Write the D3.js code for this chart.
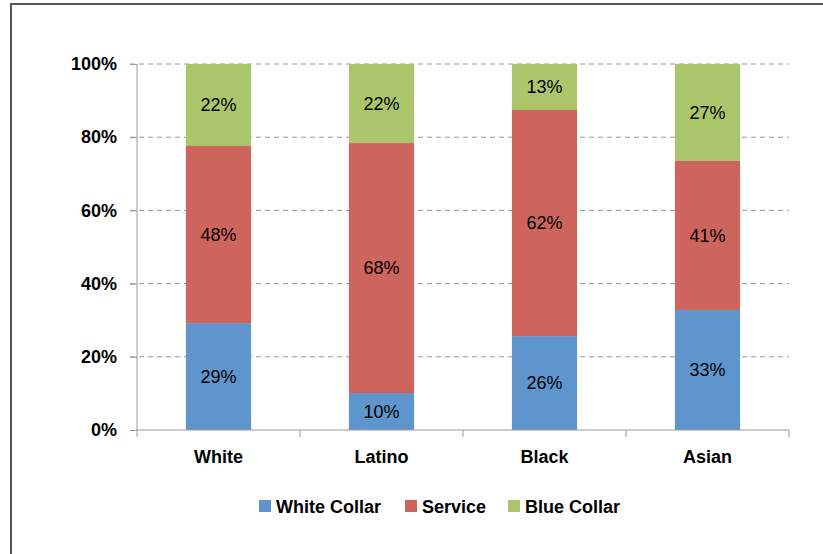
<!DOCTYPE html>
<html lang="en">
<head>
  <meta charset="UTF-8">
  <title>Occupation by group</title>
  <script src="https://d3js.org/d3.v7.min.js"></script>
  <style>
    body { margin: 0; background: #fff; font-family: "Liberation Sans", Arial, sans-serif; }
    svg { display: block; }
  </style>
</head>
<body>
  <svg width="823" height="554"></svg>

  <script>
    // values (percent of each group)
    const groups = ["White", "Latino", "Black", "Asian"];
    const series = ["White Collar", "Service", "Blue Collar"];
    const whiteCollar = [29.2, 10.1, 25.7, 32.8];
    const service = [48.4, 68.3, 61.9, 40.7];
    const blueCollar = [22.4, 21.6, 12.6, 26.5];
    const yTicks = [0, 0.2, 0.4, 0.6, 0.8, 1];
    const colors = ["#5e95cc", "#cd645e", "#abc56b"];

    const svg = d3.select("svg");
    const margin = {top: 64, left: 137, right: 34, bottom: 124};
    const width = +svg.attr("width") - margin.left - margin.right;
    const height = +svg.attr("height") - margin.top - margin.bottom;
    const fontSize = "18px";

    // outer frame
    svg.append("rect")
        .attr("x", 11).attr("y", 4)
        .attr("width", 830).attr("height", 570)
        .attr("fill", "none")
        .attr("stroke", "#555")
        .attr("stroke-width", 2);

    const chart = svg.append("g")
        .attr("transform", `translate(${margin.left},${margin.top})`);

    const table = groups.map((g, i) => ({
      group: g,
      "White Collar": whiteCollar[i],
      "Service": service[i],
      "Blue Collar": blueCollar[i]
    }));

    const stacked = d3.stack()
        .keys(series)
        .offset(d3.stackOffsetExpand)(table);

    const x = d3.scaleBand()
        .domain(groups)
        .range([0, width])
        .paddingInner(0.6)
        .paddingOuter(0.3);

    const y = d3.scaleLinear()
        .domain([0, 1])
        .range([height, 0]);

    // dashed gridlines
    chart.append("g")
      .selectAll("line")
      .data(yTicks.filter(t => t > 0))
      .enter().append("line")
        .attr("x1", -7).attr("x2", width)
        .attr("y1", d => y(d)).attr("y2", d => y(d))
        .attr("stroke", "#999")
        .attr("stroke-dasharray", "5,4");

    // bars
    const layers = chart.selectAll(".layer")
      .data(stacked)
      .enter().append("g")
        .attr("class", "layer")
        .attr("fill", (d, i) => colors[i]);

    layers.selectAll("rect")
      .data(d => d.map(v => ({v, key: d.key})))
      .enter().append("rect")
        .attr("x", d => x(d.v.data.group))
        .attr("y", d => y(d.v[1]))
        .attr("width", x.bandwidth())
        .attr("height", d => y(d.v[0]) - y(d.v[1]));

    // data labels
    layers.selectAll("text")
      .data(d => d.map(v => ({v, key: d.key})))
      .enter().append("text")
        .attr("x", d => x(d.v.data.group) + x.bandwidth() / 2)
        .attr("y", d => (y(d.v[0]) + y(d.v[1])) / 2)
        .attr("dy", "0.35em")
        .attr("text-anchor", "middle")
        .attr("fill", "#000")
        .style("font-size", fontSize)
        .text(d => Math.round(d.v.data[d.key]) + "%");

    // y axis
    const yAxis = chart.append("g")
        .call(d3.axisLeft(y).tickValues(yTicks).tickFormat(d3.format(".0%")).tickSize(7).tickPadding(13));
    yAxis.select(".domain").attr("stroke", "#999").attr("d", `M0,0V${height}`);
    yAxis.selectAll(".tick line").attr("stroke", "#999");
    yAxis.selectAll("text")
        .style("font-size", fontSize)
        .style("font-weight", "bold")
        .style("font-family", "'Liberation Sans', Arial, sans-serif")
        .attr("fill", "#000");

    // x axis
    const xAxis = chart.append("g")
        .attr("transform", `translate(0,${height})`)
        .call(d3.axisBottom(x).tickSize(0).tickPadding(20));
    xAxis.select(".domain").attr("stroke", "#999").attr("d", `M0,0H${width}`);
    xAxis.selectAll("text")
        .style("font-size", fontSize)
        .style("font-weight", "bold")
        .style("font-family", "'Liberation Sans', Arial, sans-serif")
        .attr("fill", "#000");
    xAxis.selectAll(".sep")
      .data(d3.range(groups.length + 1))
      .enter().append("line")
        .attr("x1", i => i * width / groups.length)
        .attr("x2", i => i * width / groups.length)
        .attr("y1", 0).attr("y2", 7)
        .attr("stroke", "#999");

    // legend
    const legend = svg.append("g")
        .attr("transform", "translate(259,500)");
    const legendX = [0, 146, 249];
    series.forEach((s, i) => {
      const item = legend.append("g").attr("transform", `translate(${legendX[i]},0)`);
      item.append("rect")
          .attr("width", 12).attr("height", 12)
          .attr("fill", colors[i]);
      item.append("text")
          .attr("x", 17).attr("y", 13)
          .style("font-size", fontSize)
          .style("font-weight", "bold")
          .text(s);
    });
  </script>
</body>
</html>
